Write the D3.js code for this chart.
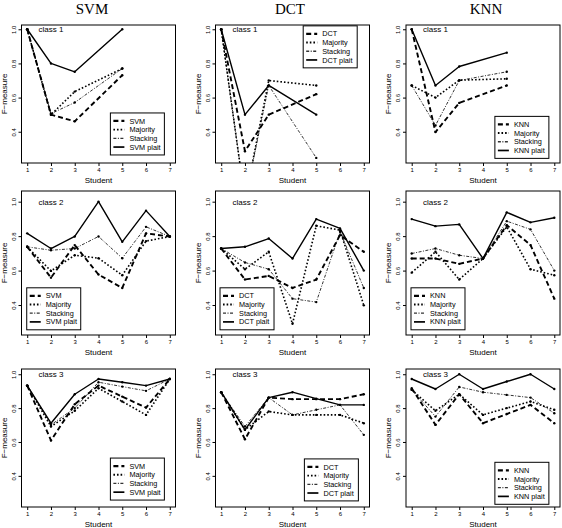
<!DOCTYPE html>
<html><head><meta charset="utf-8">
<script src="https://cdn.jsdelivr.net/npm/d3@7"></script>
<style>body{margin:0;background:#fff}svg{display:block}</style>
</head><body>
<svg id="c" width="562" height="528"></svg>
<script>
// ---------------- data ----------------
const methods = ["SVM", "DCT", "KNN"];
const classLabels = ["class 1", "class 2", "class 3"];
const studentsClass1 = [1, 2, 3, 5];
const studentsAll = [1, 2, 3, 4, 5, 6, 7];
const xTicks = [1, 2, 3, 4, 5, 6, 7];
const yTicks = [0.4, 0.6, 0.8, 1.0];
const xLabel = "Student";
const yLabel = "F\u2212measure";

// class 1
const svm_c1_base     = [1.0, 0.50, 0.461, 0.731];
const svm_c1_majority = [1.0, 0.50, 0.635, 0.770];
const svm_c1_stacking = [1.0, 0.506, 0.571, 0.770];
const svm_c1_plait    = [1.0, 0.80, 0.751, 1.0];

const dct_c1_base     = [1.0, 0.286, 0.50, 0.62];
const dct_c1_majority = [1.0, 0.0, 0.70, 0.671];
const dct_c1_stacking = [1.0, 0.0, 0.671, 0.247];
const dct_c1_plait    = [1.0, 0.50, 0.671, 0.50];

const knn_c1_base     = [1.0, 0.398, 0.569, 0.671];
const knn_c1_majority = [0.671, 0.60, 0.702, 0.71];
const knn_c1_stacking = [0.671, 0.437, 0.70, 0.751];
const knn_c1_plait    = [1.0, 0.671, 0.782, 0.863];

// class 2
const svm_c2_base     = [0.738, 0.559, 0.748, 0.577, 0.499, 0.816, 0.798];
const svm_c2_majority = [0.738, 0.598, 0.689, 0.672, 0.573, 0.771, 0.798];
const svm_c2_stacking = [0.738, 0.718, 0.728, 0.798, 0.672, 0.854, 0.798];
const svm_c2_plait    = [0.816, 0.728, 0.798, 1.0, 0.767, 0.948, 0.798];

const dct_c2_base     = [0.728, 0.548, 0.569, 0.499, 0.548, 0.806, 0.709];
const dct_c2_majority = [0.728, 0.608, 0.709, 0.291, 0.860, 0.835, 0.398];
const dct_c2_stacking = [0.728, 0.647, 0.608, 0.437, 0.417, 0.825, 0.499];
const dct_c2_plait    = [0.728, 0.738, 0.786, 0.670, 0.899, 0.845, 0.600];

const knn_c2_base     = [0.670, 0.670, 0.639, 0.670, 0.864, 0.748, 0.437];
const knn_c2_majority = [0.588, 0.709, 0.548, 0.670, 0.854, 0.608, 0.573];
const knn_c2_stacking = [0.699, 0.728, 0.689, 0.670, 0.887, 0.839, 0.600];
const knn_c2_plait    = [0.899, 0.858, 0.868, 0.670, 0.938, 0.880, 0.907];

// class 3
const svm_c3_base     = [0.933, 0.609, 0.823, 0.933, 0.868, 0.803, 0.972];
const svm_c3_majority = [0.933, 0.691, 0.784, 0.917, 0.839, 0.760, 0.972];
const svm_c3_stacking = [0.933, 0.701, 0.800, 0.953, 0.927, 0.902, 0.972];
const svm_c3_plait    = [0.933, 0.711, 0.882, 0.972, 0.953, 0.933, 0.972];

const dct_c3_base     = [0.894, 0.616, 0.862, 0.853, 0.853, 0.853, 0.882];
const dct_c3_majority = [0.894, 0.672, 0.780, 0.760, 0.760, 0.760, 0.711];
const dct_c3_stacking = [0.894, 0.691, 0.862, 0.760, 0.790, 0.819, 0.642];
const dct_c3_plait    = [0.894, 0.672, 0.862, 0.894, 0.856, 0.819, 0.819];

const knn_c3_base     = [0.917, 0.701, 0.882, 0.711, 0.765, 0.819, 0.711];
const knn_c3_majority = [0.908, 0.784, 0.882, 0.760, 0.800, 0.839, 0.790];
const knn_c3_stacking = [0.908, 0.750, 0.925, 0.894, 0.878, 0.862, 0.770];
const knn_c3_plait    = [0.972, 0.913, 1.0, 0.913, 0.957, 1.0, 0.913];

const table = {
  SVM: [[svm_c1_base, svm_c1_majority, svm_c1_stacking, svm_c1_plait],
        [svm_c2_base, svm_c2_majority, svm_c2_stacking, svm_c2_plait],
        [svm_c3_base, svm_c3_majority, svm_c3_stacking, svm_c3_plait]],
  DCT: [[dct_c1_base, dct_c1_majority, dct_c1_stacking, dct_c1_plait],
        [dct_c2_base, dct_c2_majority, dct_c2_stacking, dct_c2_plait],
        [dct_c3_base, dct_c3_majority, dct_c3_stacking, dct_c3_plait]],
  KNN: [[knn_c1_base, knn_c1_majority, knn_c1_stacking, knn_c1_plait],
        [knn_c2_base, knn_c2_majority, knn_c2_stacking, knn_c2_plait],
        [knn_c3_base, knn_c3_majority, knn_c3_stacking, knn_c3_plait]]
};

// ---------------- layout ----------------
const colLeft = [21.5, 215.5, 406];
const plotW = 154;
const rowTop = [25, 191, 369];
const rowBottom = [163, 335, 507];
const rowYlim = [[0.217, 1.025], [0.226, 1.062], [0.216, 1.031]];
const xlim = [0.76, 7.24];
const titleX = [92, 290, 486];
// legend top-left corner in data coordinates [row][col]
const legendPos = [
  [[4.5, 0.51], [4.45, 1.02], [4.5, 0.49]],
  [[0.98, 0.50], [0.95, 0.50], [0.97, 0.50]],
  [[4.5, 0.505], [4.5, 0.50], [4.5, 0.48]]
];
const styles = [
  {w: 1.9, dash: "5,3", color: "#000"},
  {w: 1.6, dash: "1.6,2", color: "#000"},
  {w: 1.0, dash: "3,1.5,1,1.5", color: "#333"},
  {w: 1.4, dash: null, color: "#000"}
];
const font = "'Liberation Sans', Arial, sans-serif";

const svg = d3.select("#c");
svg.append("rect").attr("width", 562).attr("height", 528).attr("fill", "#fff");

methods.forEach((m, ci) => {
  svg.append("text").attr("x", titleX[ci]).attr("y", 14)
    .attr("text-anchor", "middle").attr("font-family", "'Liberation Serif', 'Times New Roman', serif")
    .attr("font-size", 15).attr("fill", "#000").text(m);

  classLabels.forEach((cl, ri) => {
    const x = d3.scaleLinear().domain(xlim).range([colLeft[ci], colLeft[ci] + plotW]);
    const y = d3.scaleLinear().domain(rowYlim[ri]).range([rowBottom[ri], rowTop[ri]]);
    const g = svg.append("g");
    const clipId = `clip-${ri}-${ci}`;
    svg.append("clipPath").attr("id", clipId).append("rect")
      .attr("x", colLeft[ci]).attr("y", rowTop[ri]).attr("width", plotW).attr("height", rowBottom[ri] - rowTop[ri]);

    const studs = ri === 0 ? studentsClass1 : studentsAll;
    const seriesList = table[m][ri];
    const labels = [m, "Majority", "Stacking", m + " plait"];

    const lg = g.append("g").attr("clip-path", `url(#${clipId})`);
    // draw order: stacking, majority, base, plait
    [2, 1, 0, 3].forEach(si => {
      const vals = seriesList[si];
      const pts = studs.map((s, i) => [s, vals[i]]);
      const st = styles[si];
      lg.append("path")
        .attr("d", d3.line().x(d => x(d[0])).y(d => y(d[1]))(pts))
        .attr("fill", "none").attr("stroke", st.color).attr("stroke-width", st.w)
        .attr("stroke-dasharray", st.dash).attr("stroke-linejoin", "round");
      lg.selectAll(null).data(pts).enter().append("circle")
        .attr("cx", d => x(d[0])).attr("cy", d => y(d[1])).attr("r", 1.2).attr("fill", "#000");
    });

    // box
    g.append("rect").attr("x", colLeft[ci]).attr("y", rowTop[ri])
      .attr("width", plotW).attr("height", rowBottom[ri] - rowTop[ri])
      .attr("fill", "none").attr("stroke", "#000").attr("stroke-width", 1);

    // axes
    const xa = g.append("g").attr("transform", `translate(0,${rowBottom[ri]})`)
      .call(d3.axisBottom(x).tickValues(xTicks).tickFormat(d3.format("d")).tickSize(3).tickPadding(2));
    xa.select(".domain").remove();
    xa.selectAll("text").attr("font-size", 6).attr("font-family", font);
    const ya = g.append("g").attr("transform", `translate(${colLeft[ci]},0)`)
      .call(d3.axisLeft(y).tickValues(yTicks).tickFormat(d3.format(".1f")).tickSize(3).tickPadding(2));
    ya.select(".domain").remove();
    ya.selectAll("text").attr("font-size", 6).attr("font-family", font)
      .attr("text-anchor", "middle").attr("x", 0).attr("y", 0).attr("dy", 0)
      .attr("transform", "translate(-6,0) rotate(-90)");

    // axis titles
    g.append("text").attr("x", colLeft[ci] + plotW / 2).attr("y", rowBottom[ri] + 19.5)
      .attr("text-anchor", "middle").attr("font-size", 8).attr("font-family", font).text(xLabel);
    const cy = (rowTop[ri] + rowBottom[ri]) / 2;
    g.append("text").attr("transform", `translate(${colLeft[ci] - 15},${cy}) rotate(-90)`)
      .attr("text-anchor", "middle").attr("font-size", 8).attr("font-family", font).text(yLabel);

    // class label
    g.append("text").attr("x", x(2)).attr("y", y(1.0) + 3)
      .attr("text-anchor", "middle").attr("font-size", 8).attr("font-family", font).text(cl);

    // legend
    const lp = legendPos[ri][ci];
    const lx = x(lp[0]), ly = y(lp[1]);
    const leg = g.append("g").attr("transform", `translate(${lx},${ly})`);
    leg.append("rect").attr("width", 54).attr("height", 42)
      .attr("fill", "#fff").attr("stroke", "#000").attr("stroke-width", 1);
    labels.forEach((lab, i) => {
      const yy = 8 + i * 8.7;
      const st = styles[i];
      leg.append("line").attr("x1", 3).attr("x2", 14).attr("y1", yy).attr("y2", yy)
        .attr("stroke", st.color).attr("stroke-width", st.w + 0.3).attr("stroke-dasharray", st.dash);
      leg.append("text").attr("x", 19).attr("y", yy + 2.6).attr("font-size", 7.3)
        .attr("font-family", font).text(lab);
    });
  });
});
</script>
</body></html>
